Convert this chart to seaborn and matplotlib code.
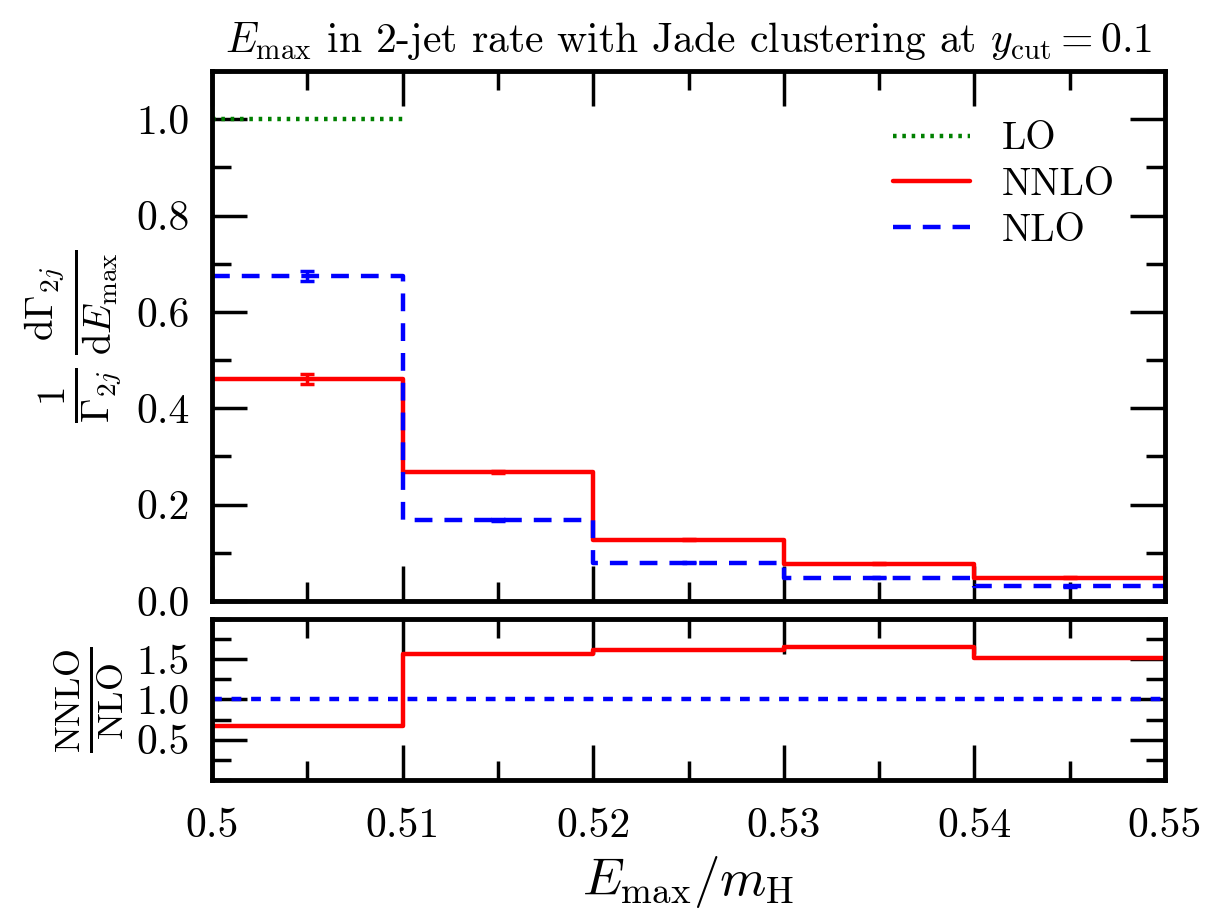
import numpy as np
import pandas as pd
import seaborn as sns
from matplotlib import pyplot as plt
from matplotlib.ticker import MultipleLocator, FuncFormatter

# bin edges and per-bin values
edges = [0.50, 0.51, 0.52, 0.53, 0.54, 0.55]
lo_vals = [1.0]
nlo_vals = [0.675, 0.168, 0.079, 0.048, 0.031]
nnlo_vals = [0.461, 0.268, 0.127, 0.077, 0.048]
nlo_err = [0.010, 0.002, 0.001, 0.001, 0.001]
nnlo_err = [0.010, 0.002, 0.001, 0.001, 0.001]
ratio_vals = [0.67, 1.57, 1.62, 1.65, 1.52]


def step_frame(vals, edges):
    x = list(edges[:len(vals) + 1])
    y = list(vals) + [vals[-1]]
    return pd.DataFrame({'x': x, 'y': y})


sns.set_style('ticks')
plt.rcParams['font.family'] = 'serif'
plt.rcParams['font.serif'] = ['cmr10']
plt.rcParams['mathtext.fontset'] = 'cm'
plt.rcParams['axes.formatter.use_mathtext'] = True
plt.rcParams['axes.unicode_minus'] = False
plt.rcParams['axes.edgecolor'] = 'black'
plt.rcParams['xtick.color'] = 'black'
plt.rcParams['ytick.color'] = 'black'
plt.rcParams['text.color'] = 'black'
plt.rcParams['axes.labelcolor'] = 'black'

fig = plt.figure(figsize=(12.09, 9.17), dpi=100)
ax = fig.add_axes([0.1754, 0.3446, 0.7882, 0.578])
axr = fig.add_axes([0.1754, 0.1494, 0.7882, 0.1756])

lw = 3.2
centers = [(a + b) / 2 for a, b in zip(edges[:-1], edges[1:])]

sns.lineplot(data=step_frame(lo_vals, edges), x='x', y='y', ax=ax, color='green',
             linestyle=(0, (0.8, 1.3)), lw=lw, drawstyle='steps-post', label='LO', estimator=None)
sns.lineplot(data=step_frame(nnlo_vals, edges), x='x', y='y', ax=ax, color='red',
             lw=lw, drawstyle='steps-post', label='NNLO', estimator=None)
sns.lineplot(data=step_frame(nlo_vals, edges), x='x', y='y', ax=ax, color='blue',
             linestyle=(0, (4, 2.7)), lw=lw, drawstyle='steps-post', label='NLO', estimator=None)
ax.errorbar(centers, nnlo_vals, yerr=nnlo_err, fmt='none', ecolor='red', elinewidth=2.5,
            capsize=5, capthick=2.5)
ax.errorbar(centers, nlo_vals, yerr=nlo_err, fmt='none', ecolor='blue', elinewidth=2.5,
            capsize=5, capthick=2.5)

sns.lineplot(data=step_frame(ratio_vals, edges), x='x', y='y', ax=axr, color='red',
             lw=lw, drawstyle='steps-post', estimator=None)
sns.lineplot(data=step_frame([1.0] * 5, edges), x='x', y='y', ax=axr, color='blue',
             linestyle=(0, (2.2, 2.2)), lw=lw, drawstyle='steps-post', estimator=None)

ax.set_xlim(0.5, 0.55)
ax.set_ylim(0, 1.1)
axr.set_xlim(0.5, 0.55)
axr.set_ylim(0, 2.0)

for a in (ax, axr):
    a.xaxis.set_major_locator(MultipleLocator(0.01))
    a.xaxis.set_minor_locator(MultipleLocator(0.005))
    a.tick_params(which='both', direction='in', top=True, right=True, width=2.5)
    a.tick_params(which='major', length=25, labelsize=30)
    a.tick_params(which='minor', length=14)
    a.tick_params(axis='y', pad=16)
    for s in a.spines.values():
        s.set_linewidth(3.5)
    a.set_xlabel('')
    a.set_ylabel('')

ax.yaxis.set_major_locator(MultipleLocator(0.2))
ax.yaxis.set_minor_locator(MultipleLocator(0.1))
ax.yaxis.set_major_formatter(FuncFormatter(lambda v, p: '%.1f' % v))
ax.tick_params(axis='x', labelbottom=False)

axr.set_yticks([0.5, 1.0, 1.5])
axr.yaxis.set_minor_locator(MultipleLocator(0.25))
axr.yaxis.set_major_formatter(FuncFormatter(lambda v, p: '%.1f' % v))
axr.xaxis.set_major_formatter(FuncFormatter(lambda v, p: '%g' % round(v, 3)))
axr.tick_params(axis='x', pad=20)

ax.set_title(r'$E_\mathrm{max}$ in 2-jet rate with Jade clustering at $y_\mathrm{cut} = 0.1$',
             fontsize=30, pad=14)
ax.set_ylabel(r'$\frac{1}{\Gamma_{2j}}\,\frac{\mathrm{d}\Gamma_{2j}}{\mathrm{d}E_\mathrm{max}}$',
              fontsize=40, labelpad=10)
axr.set_ylabel(r'$\frac{\mathrm{NNLO}}{\mathrm{NLO}}$', fontsize=37, labelpad=8)
axr.set_xlabel(r'$E_\mathrm{max}/m_\mathrm{H}$', fontsize=38, labelpad=6)

ax.legend(loc='upper right', frameon=False, fontsize=28, handlelength=2.0,
          borderaxespad=0.9, labelspacing=0.25)

fig.savefig('out.png', dpi=100)
